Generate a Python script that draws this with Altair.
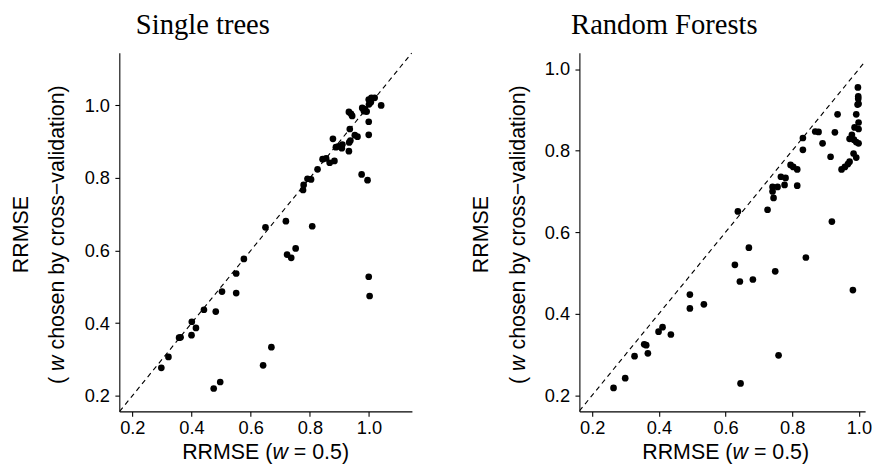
import altair as alt
import pandas as pd

# Single trees: RRMSE (w = 0.5) vs RRMSE (w chosen by CV)
st_x = [0.298, 0.322, 0.358, 0.363, 0.401, 0.400, 0.415, 0.442, 0.482, 0.475,
        0.497, 0.503, 0.551, 0.551, 0.577, 0.642, 0.670, 0.650, 0.719, 0.723,
        0.737, 0.752, 0.808, 0.777, 0.779, 0.792, 0.804, 0.826, 0.843, 0.855,
        0.867, 0.883, 0.878, 0.888, 0.897, 0.910, 0.908, 0.932, 0.933, 0.937,
        0.935, 0.932, 0.939, 0.943, 0.952, 0.961, 0.977, 0.983, 0.992, 0.999,
        1.008, 1.000, 1.006, 1.019, 1.041, 0.999, 0.999, 0.975, 0.995, 0.999,
        1.002, 0.986]
st_y = [0.277, 0.307, 0.360, 0.361, 0.404, 0.367, 0.387, 0.437, 0.432, 0.220,
        0.238, 0.487, 0.537, 0.483, 0.577, 0.284, 0.334, 0.664, 0.681, 0.589,
        0.580, 0.606, 0.667, 0.767, 0.781, 0.798, 0.796, 0.824, 0.852, 0.854,
        0.842, 0.847, 0.908, 0.885, 0.887, 0.892, 0.882, 0.874, 0.898, 0.903,
        0.935, 0.982, 0.977, 0.971, 0.918, 0.914, 0.993, 0.984, 0.983, 1.016,
        1.021, 1.003, 1.009, 1.021, 1.000, 0.955, 0.919, 0.810, 0.794, 0.528,
        0.475, 0.990]

# Random Forests
rf_x = [0.264, 0.299, 0.327, 0.356, 0.362, 0.367, 0.399, 0.411, 0.436, 0.493,
        0.493, 0.535, 0.628, 0.643, 0.645, 0.637, 0.670, 0.682, 0.726, 0.744,
        0.741, 0.741, 0.756, 0.766, 0.780, 0.777, 0.815, 0.749, 0.759, 0.795,
        0.803, 0.815, 0.832, 0.832, 0.841, 0.869, 0.879, 0.891, 0.915, 0.919,
        0.928, 0.936, 0.948, 0.958, 0.967, 0.972, 0.984, 0.992, 0.972, 0.979,
        0.985, 0.992, 0.999, 0.982, 0.997, 0.998, 0.999, 0.998, 0.996, 0.999,
        0.992, 0.987, 0.999]
rf_y = [0.218, 0.242, 0.296, 0.325, 0.323, 0.303, 0.356, 0.367, 0.349, 0.447,
        0.413, 0.423, 0.520, 0.479, 0.229, 0.651, 0.562, 0.484, 0.655, 0.684,
        0.711, 0.700, 0.711, 0.736, 0.733, 0.716, 0.714, 0.504, 0.298, 0.765,
        0.760, 0.754, 0.802, 0.831, 0.538, 0.847, 0.846, 0.818, 0.785, 0.626,
        0.845, 0.889, 0.754, 0.760, 0.767, 0.773, 0.793, 0.783, 0.829, 0.839,
        0.827, 0.821, 0.818, 0.458, 0.955, 0.933, 0.915, 0.927, 0.913, 0.869,
        0.889, 0.857, 0.853]

titles = ["Single trees", "Random Forests"]
# (text, em width of the piece, em gap before it, italic)
x_title_parts = [("RRMSE (", 4.222, 0.0, False), ("w", 0.722, 0.0, True),
                 ("= 0.5)", 2.585, 0.278, False)]
y_title_line1 = "RRMSE"
y_title_parts = [("(", 0.333, 0.0, False), ("w", 0.722, 0.278, True),
                 ("chosen by cross\u2212validation)", 12.366, 0.278, False)]
tick_vals = [0.2, 0.4, 0.6, 0.8, 1.0]

H = 364
TFS = 21.7          # axis-title font size

panels = [
    (titles[0], st_x, st_y, [0.156, 1.145], [0.157, 1.145], 297, -63.7),
    (titles[1], rf_x, rf_y, [0.1616, 1.0186], [0.1605, 1.04], 290, -58.8),
]


def txt(s, x, y, angle=0, italic=False):
    return alt.Chart(pd.DataFrame({"t": [s]})).mark_text(
        font="Liberation Sans", fontSize=TFS, color="black",
        fontStyle="italic" if italic else "normal",
        align="left", baseline="alphabetic", angle=angle,
    ).encode(text="t:N", x=alt.value(x), y=alt.value(y))


def make_panel(title, xs, ys, xdom, ydom, W, tdx):
    df = pd.DataFrame({"x": xs, "y": ys})
    lo, hi = max(xdom[0], ydom[0]), min(xdom[1], ydom[1])
    diag = pd.DataFrame({"x": [lo, hi], "y": [lo, hi]})
    xsc = alt.Scale(domain=xdom, nice=False, zero=False)
    ysc = alt.Scale(domain=ydom, nice=False, zero=False)
    xax = alt.Axis(values=tick_vals, format=".1f", title=None,
                   labelPadding=2.5, tickSize=5)
    yax = alt.Axis(values=tick_vals, format=".1f", title=None,
                   labelPadding=5.5, tickSize=4.5)
    line = alt.Chart(diag).mark_line(color="black", strokeDash=[5, 4],
                                     strokeWidth=1.15, clip=True).encode(
        x=alt.X("x:Q", scale=xsc, axis=xax),
        y=alt.Y("y:Q", scale=ysc, axis=yax),
    )
    pts = alt.Chart(df).mark_circle(color="black", opacity=1, size=46).encode(
        x=alt.X("x:Q", scale=xsc, axis=xax),
        y=alt.Y("y:Q", scale=ysc, axis=yax),
    )
    layers = [line, pts]
    # x-axis title with italic w
    xw = sum(w + g for _, w, g, _ in x_title_parts) * TFS
    cur = 148.5 - xw / 2
    xb = H + 48.8
    for s, w, g, it in x_title_parts:
        cur += g * TFS
        layers.append(txt(s, cur, xb, italic=it))
        cur += w * TFS
    # y-axis title (two lines, rotated)
    yc = 184.5
    w1 = 3.611 * TFS
    layers.append(txt(y_title_line1, -92.4, yc + w1 / 2, angle=270))
    yw = sum(w + g for _, w, g, _ in y_title_parts) * TFS
    cur = yc + yw / 2
    for s, w, g, it in y_title_parts:
        cur -= g * TFS
        layers.append(txt(s, -55.7, cur, angle=270, italic=it))
        cur -= w * TFS
    return alt.layer(*layers).properties(
        width=W, height=H,
        title=alt.Title(title, font="Liberation Serif", fontSize=29,
                        fontWeight="normal", color="black", offset=13, dx=tdx),
    )


charts = [make_panel(*p) for p in panels]
chart = alt.hconcat(
    *charts, spacing=60,
    padding={"left": 3, "top": 0, "right": 0, "bottom": 0},
).configure_view(stroke=None).configure_axis(
    grid=False,
    domainColor="black",
    domainWidth=1.1,
    tickColor="black",
    tickWidth=1.1,
    labelFont="Liberation Sans",
    labelFontSize=18.5,
    labelColor="black",
)

chart.save("out.html", embed_options={"renderer": "svg", "actions": False})
